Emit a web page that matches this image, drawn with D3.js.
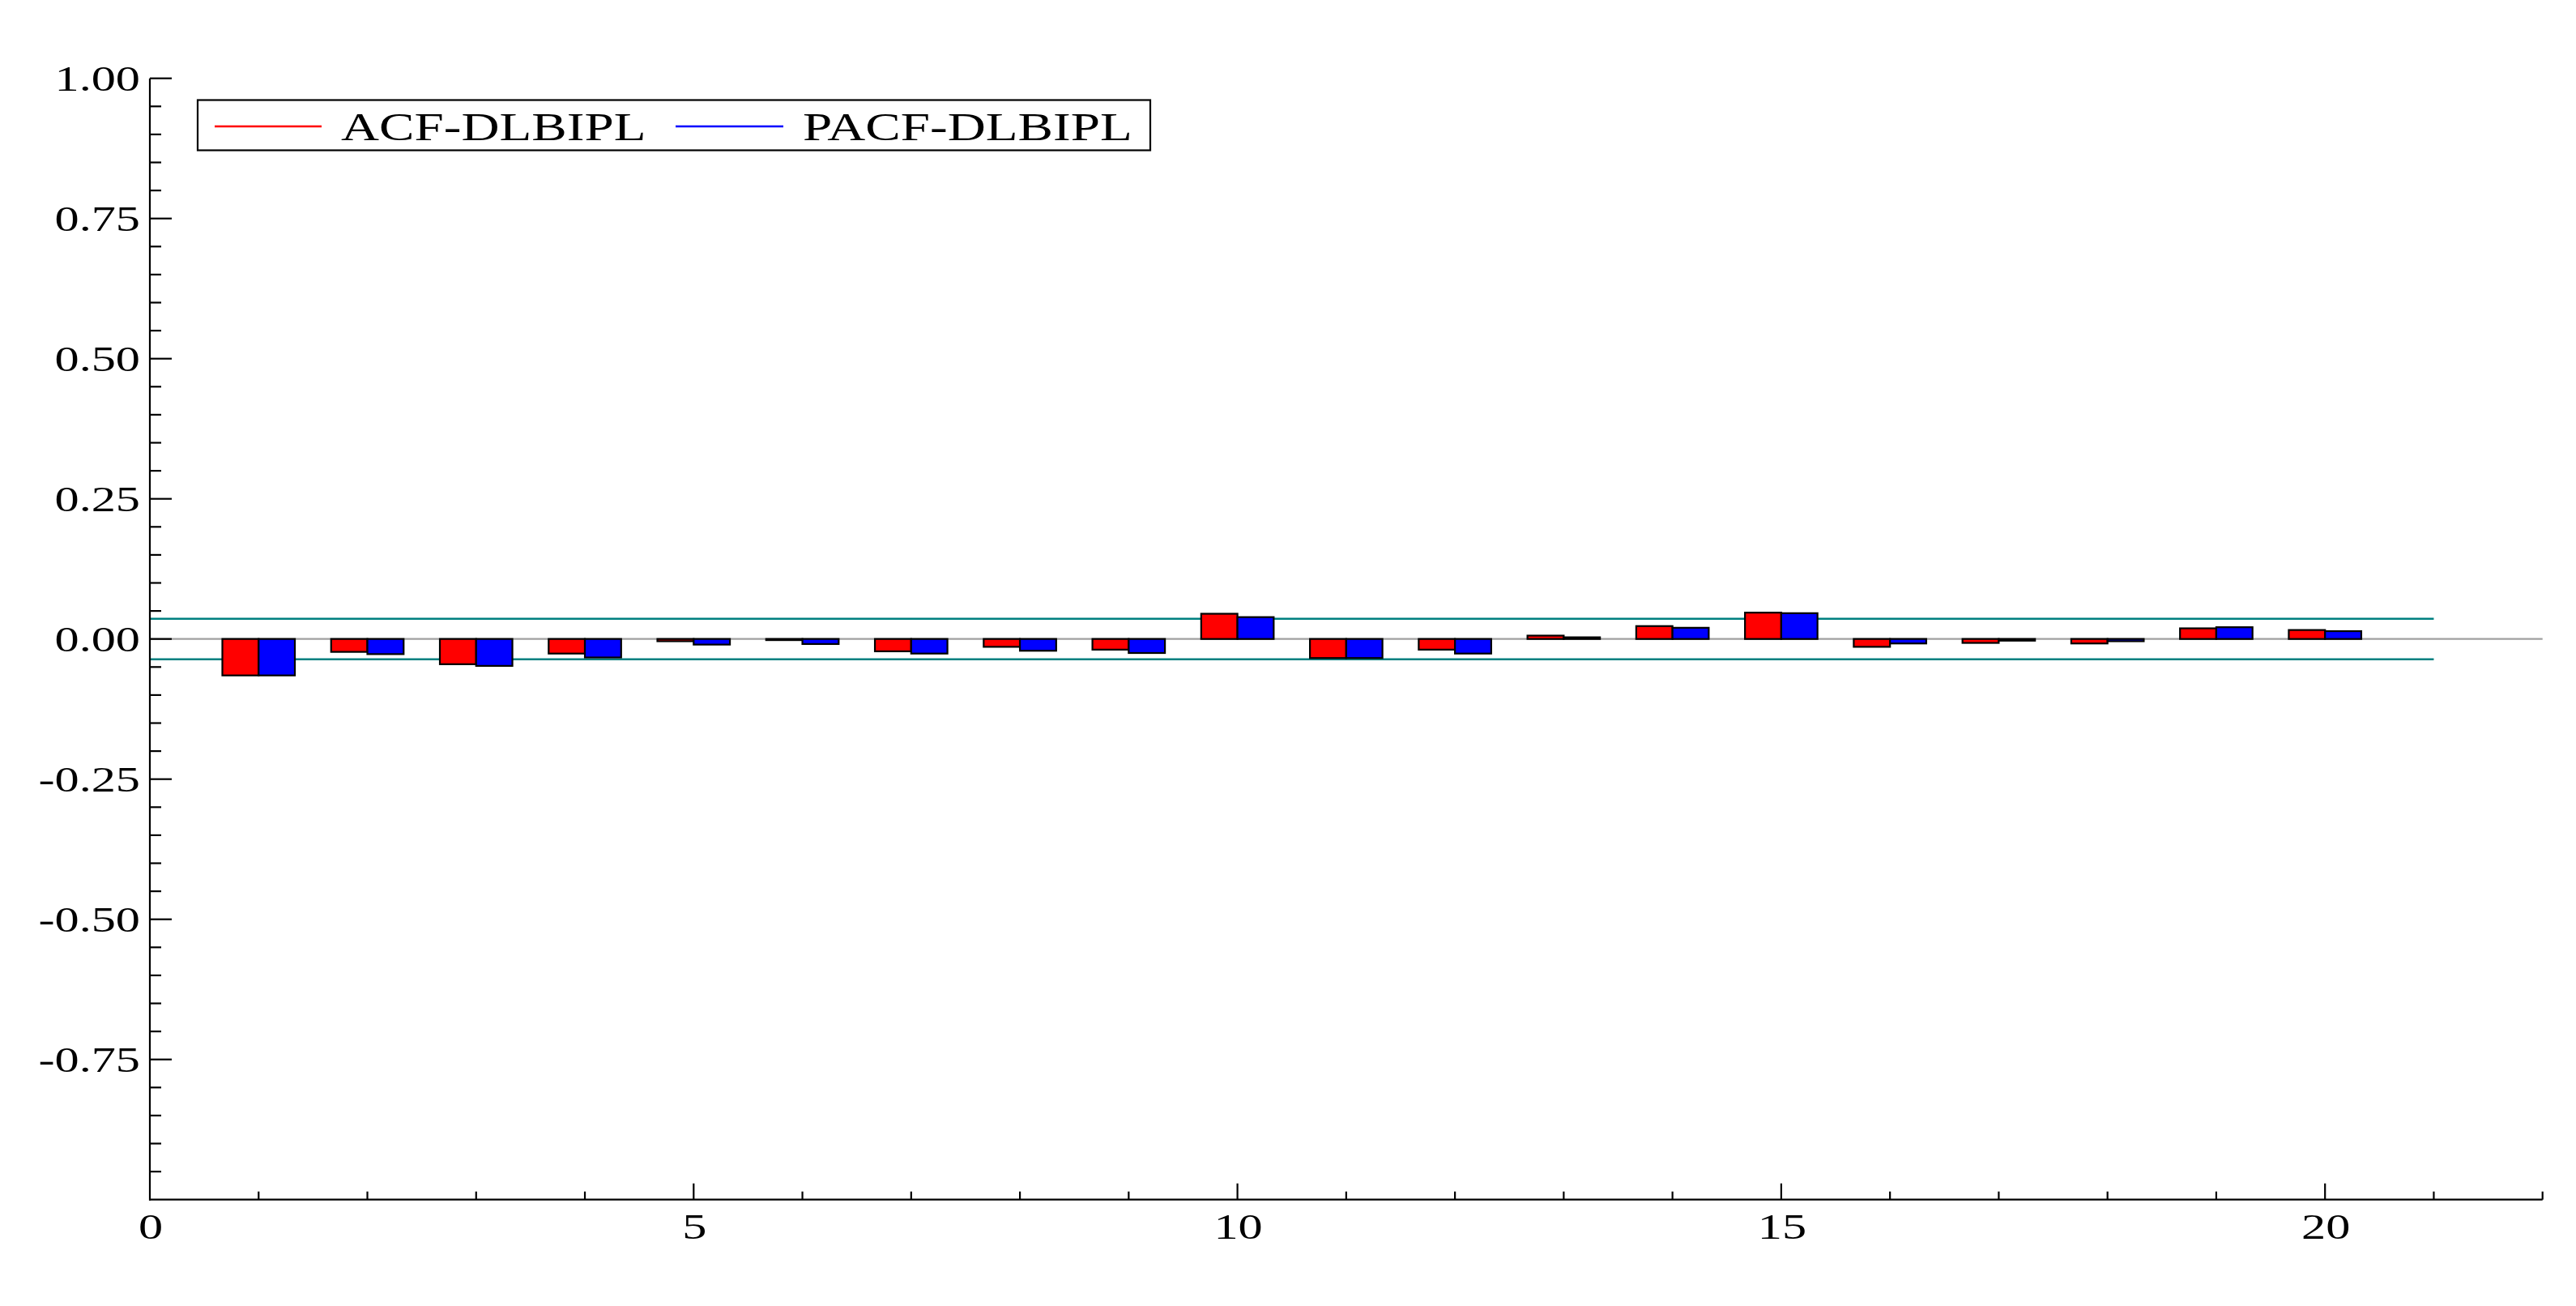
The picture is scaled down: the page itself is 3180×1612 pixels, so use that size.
<!DOCTYPE html>
<html><head><meta charset="utf-8">
<script src="https://cdn.jsdelivr.net/npm/d3@7"></script>
<style>html,body{margin:0;padding:0;background:#fff;}svg{display:block;}</style>
</head><body>
<script>
const lags = [1,2,3,4,5,6,7,8,9,10,11,12,13,14,15,16,17,18,19,20];
const acfValues  = [-0.065,-0.023,-0.045,-0.026,-0.004,-0.002,-0.022,-0.014,-0.019,0.045,-0.034,-0.019,0.006,0.023,0.047,-0.014,-0.007,-0.008,0.019,0.016];
const pacfValues = [-0.065,-0.027,-0.048,-0.033,-0.010,-0.009,-0.026,-0.021,-0.025,0.039,-0.034,-0.026,0.003,0.020,0.046,-0.008,-0.003,-0.004,0.021,0.014];
const seriesNames = ["ACF-DLBIPL","PACF-DLBIPL"];
const seriesColors = ["#ff0000","#0000ff"];
const confBand = 0.0361;
const yTickLabels = ["1.00","0.75","0.50","0.25","0.00","-0.25","-0.50","-0.75"];
const xTickLabels = ["0","5","10","15","20"];

const W=3180,H=1612;
const svg=d3.select("body").append("svg").attr("width",W).attr("height",H);
svg.append("rect").attr("width",W).attr("height",H).attr("fill","#fff");

const x=d3.scaleLinear().domain([0,22]).range([185,3138.7]);
const y=d3.scaleLinear().domain([-1,1]).range([1480.7,96.7]);
const fontFam='"Liberation Serif","Times New Roman",serif';
const sxTick=1.37;

// zero line
svg.append("line").attr("x1",x(0)).attr("x2",x(22)).attr("y1",y(0)).attr("y2",y(0))
  .attr("stroke","#a0a0a0").attr("stroke-width",2.2);
// confidence lines
[confBand,-confBand].forEach(v=>{
  svg.append("line").attr("x1",x(0)).attr("x2",x(21)).attr("y1",y(v)).attr("y2",y(v))
    .attr("stroke","#008080").attr("stroke-width",2.4);
});

// bars
const bw=x(1/3)-x(0);
const g=svg.append("g");
lags.forEach((l,i)=>{
  const a=acfValues[i], p=pacfValues[i];
  g.append("rect").attr("x",x(l)-bw).attr("width",bw)
    .attr("y",Math.min(y(a),y(0))).attr("height",Math.abs(y(a)-y(0)))
    .attr("fill",seriesColors[0]).attr("stroke","#000").attr("stroke-width",2.2);
  g.append("rect").attr("x",x(l)).attr("width",bw)
    .attr("y",Math.min(y(p),y(0))).attr("height",Math.abs(y(p)-y(0)))
    .attr("fill",seriesColors[1]).attr("stroke","#000").attr("stroke-width",2.2);
});

// axes
const ax=svg.append("g").attr("stroke","#000").attr("stroke-width",2.2);
ax.append("line").attr("x1",x(0)).attr("x2",x(0)).attr("y1",y(1)).attr("y2",y(-1)+1);
ax.append("line").attr("x1",x(0)-1).attr("x2",x(22)).attr("y1",y(-1)).attr("y2",y(-1));
// y ticks
d3.range(-19,21).forEach(k=>{
  const v=k*0.05;
  const major=(k%5===0);
  ax.append("line").attr("x1",x(0)).attr("x2",x(0)+(major?27:14)).attr("y1",y(v)).attr("y2",y(v));
});
// x ticks
d3.range(1,23).forEach(k=>{
  const major=(k%5===0);
  ax.append("line").attr("x1",x(k)).attr("x2",x(k)).attr("y1",y(-1)).attr("y2",y(-1)-(major?20:10));
});
// y labels
yTickLabels.forEach(s=>{
  svg.append("text").attr("transform",`translate(173,${y(+s)+15}) scale(${sxTick},1)`)
    .attr("text-anchor","end").attr("font-family",fontFam).attr("font-size",44)
    .attr("fill","#000").text(s);
});
// x labels
xTickLabels.forEach(s=>{
  svg.append("text").attr("transform",`translate(${x(+s)+1},1529) scale(${sxTick},1)`)
    .attr("text-anchor","middle").attr("font-family",fontFam).attr("font-size",44)
    .attr("fill","#000").text(s);
});

// legend
const lg=svg.append("g");
lg.append("rect").attr("x",244).attr("y",123.5).attr("width",1176).attr("height",62)
  .attr("fill","#fff").attr("stroke","#000").attr("stroke-width",2.2);
const legItems=[{x1:265,x2:397,tx:421},{x1:834,x2:967,tx:991}];
legItems.forEach((it,i)=>{
  lg.append("line").attr("x1",it.x1).attr("x2",it.x2).attr("y1",156).attr("y2",156)
    .attr("stroke",seriesColors[i]).attr("stroke-width",2.6);
  lg.append("text").attr("transform",`translate(${it.tx},172.7) scale(1.33,1)`)
    .attr("font-family",fontFam).attr("font-size",49).attr("fill","#000").text(seriesNames[i]);
});
</script>
</body></html>
